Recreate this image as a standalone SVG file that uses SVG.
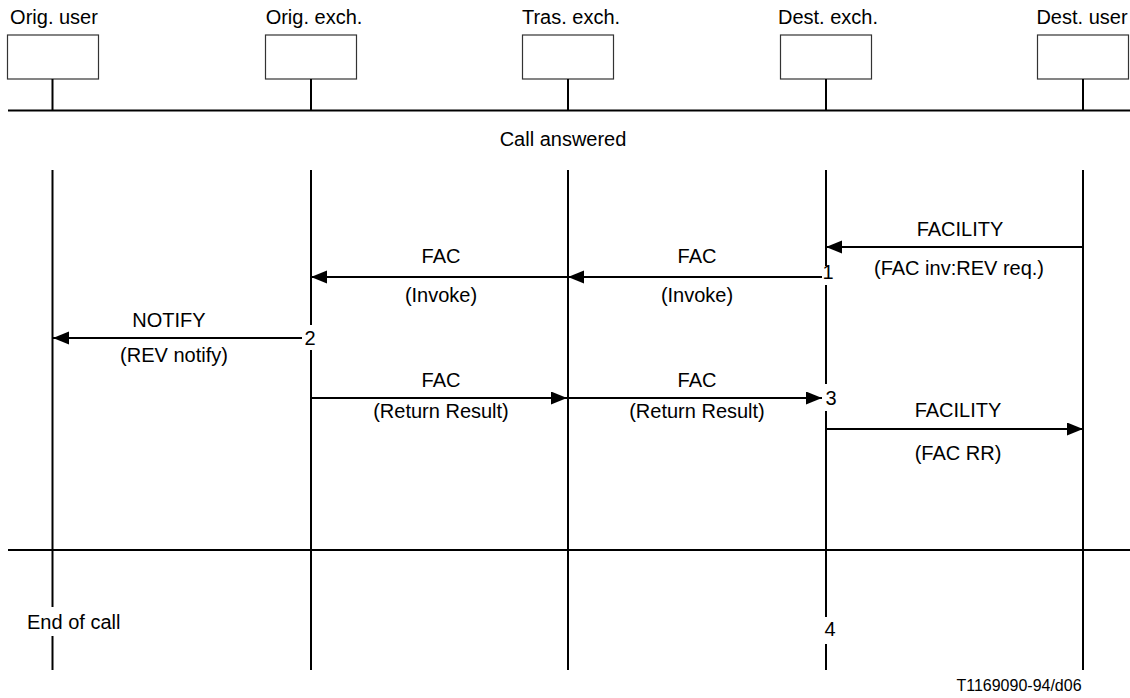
<svg xmlns="http://www.w3.org/2000/svg" width="1130" height="698" viewBox="0 0 1130 698">
  <style>
    text { font-family: "Liberation Sans", Arial, sans-serif; font-size: 20px; fill: #000; }
    .c { text-anchor: middle; }
    .box { fill: #fff; stroke: #333; stroke-width: 1.2; }
    .life { stroke: #000; stroke-width: 2; fill: none; }
    .rule { stroke: #000; stroke-width: 2; }
    .msg { stroke: #000; stroke-width: 2; fill: none; }
    .ref { font-size: 16px; }
  </style>
  <defs>
    <marker id="head" markerUnits="userSpaceOnUse" markerWidth="17" markerHeight="14" refX="16" refY="6.5" orient="auto">
      <path d="M0,0 L16,6.5 L0,13 z" fill="#000"/>
    </marker>
  </defs>

  <rect width="1130" height="698" fill="#fff"/>

  <!-- horizontal phase rules -->
  <line class="rule" x1="8" y1="110.5" x2="1130" y2="110.5"/>
  <line class="rule" x1="8" y1="550" x2="1130" y2="550"/>

  <!-- participants -->
  <g id="orig-user">
    <text class="c" x="54" y="24">Orig. user</text>
    <rect class="box" x="7.5" y="35" width="91" height="44"/>
    <line class="life" x1="52.5" y1="79" x2="52.5" y2="110"/>
    <path class="life" d="M52.5,170 V607 M52.5,636 V670"/>
  </g>
  <g id="orig-exch">
    <text class="c" x="314" y="24">Orig. exch.</text>
    <rect class="box" x="265.5" y="35" width="91" height="44"/>
    <line class="life" x1="311" y1="79" x2="311" y2="110"/>
    <path class="life" d="M311,170 V325 M311,350 V670"/>
  </g>
  <g id="tras-exch">
    <text class="c" x="571" y="24">Tras. exch.</text>
    <rect class="box" x="522.5" y="35" width="91" height="44"/>
    <line class="life" x1="568" y1="79" x2="568" y2="110"/>
    <path class="life" d="M568,170 V670"/>
  </g>
  <g id="dest-exch">
    <text class="c" x="828" y="24">Dest. exch.</text>
    <rect class="box" x="780.5" y="35" width="91" height="44"/>
    <line class="life" x1="826" y1="79" x2="826" y2="110"/>
    <path class="life" d="M826,170 V266 M826,285 V384 M826,411 V617 M826,644 V670"/>
  </g>
  <g id="dest-user">
    <text class="c" x="1082" y="24">Dest. user</text>
    <rect class="box" x="1037.5" y="35" width="91" height="44"/>
    <line class="life" x1="1083" y1="79" x2="1083" y2="110"/>
    <path class="life" d="M1083,170 V670"/>
  </g>

  <!-- phase and point labels -->
  <g id="labels">
    <text class="c" x="563" y="146">Call answered</text>
    <text x="27" y="629">End of call</text>
    <text class="c" x="828" y="279">1</text>
    <text class="c" x="310" y="345">2</text>
    <text class="c" x="831" y="405">3</text>
    <text class="c" x="830" y="636">4</text>
    <text class="c ref" x="1019" y="691">T1169090-94/d06</text>
  </g>

  <!-- messages -->
  <g id="connectors">
    <line class="msg" x1="1083" y1="247" x2="826" y2="247" marker-end="url(#head)"/>
    <text class="c" x="960" y="236">FACILITY</text>
    <text class="c" x="959" y="275">(FAC inv:REV req.)</text>

    <line class="msg" x1="822" y1="277" x2="568" y2="277" marker-end="url(#head)"/>
    <text class="c" x="697" y="263">FAC</text>
    <text class="c" x="697" y="302">(Invoke)</text>

    <line class="msg" x1="568" y1="277" x2="311" y2="277" marker-end="url(#head)"/>
    <text class="c" x="441" y="263">FAC</text>
    <text class="c" x="441" y="302">(Invoke)</text>

    <line class="msg" x1="302" y1="338" x2="53" y2="338" marker-end="url(#head)"/>
    <text class="c" x="169" y="327">NOTIFY</text>
    <text class="c" x="174" y="362">(REV notify)</text>

    <line class="msg" x1="311" y1="398" x2="567" y2="398" marker-end="url(#head)"/>
    <text class="c" x="441" y="387">FAC</text>
    <text class="c" x="441" y="418">(Return Result)</text>

    <line class="msg" x1="568" y1="398" x2="822" y2="398" marker-end="url(#head)"/>
    <text class="c" x="697" y="387">FAC</text>
    <text class="c" x="697" y="418">(Return Result)</text>

    <line class="msg" x1="826" y1="429" x2="1083" y2="429" marker-end="url(#head)"/>
    <text class="c" x="958" y="417">FACILITY</text>
    <text class="c" x="958" y="460">(FAC RR)</text>
  </g>
</svg>
